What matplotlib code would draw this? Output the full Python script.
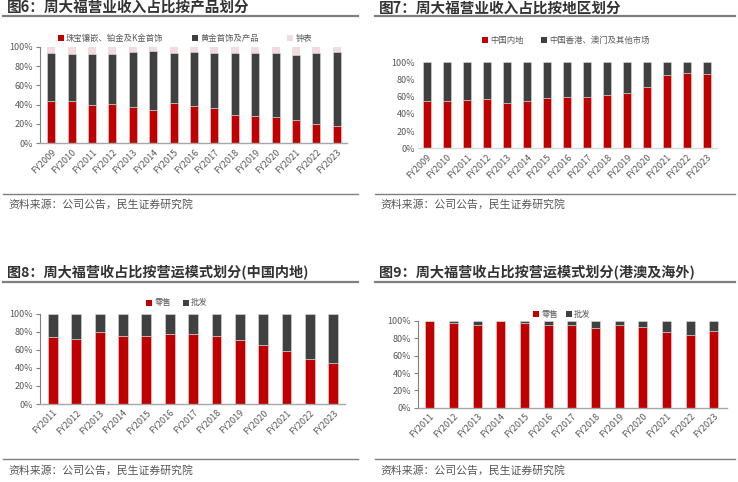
import matplotlib
matplotlib.use("Agg")
import matplotlib.pyplot as plt
from matplotlib.lines import Line2D
from matplotlib.patches import Patch

plt.rcParams["font.family"] = ["Noto Sans CJK SC", "DejaVu Sans"]

RED = "#C00000"
DARK = "#404040"
PINK = "#F2DCDB"

# 图6 产品划分
years_a = ["FY2009", "FY2010", "FY2011", "FY2012", "FY2013", "FY2014", "FY2015", "FY2016",
           "FY2017", "FY2018", "FY2019", "FY2020", "FY2021", "FY2022", "FY2023"]
jewelry = [44.1, 44.0, 39.3, 40.7, 37.2, 34.1, 41.4, 39.0, 36.9, 29.7, 27.9, 26.9, 23.8, 20.3, 17.6]
gold = [49.0, 48.1, 52.8, 52.1, 56.9, 61.1, 52.4, 55.1, 56.9, 63.4, 65.9, 66.2, 67.9, 72.8, 76.5]
watches = [6.9, 7.9, 7.9, 7.2, 5.9, 4.8, 6.2, 5.9, 6.2, 6.9, 6.2, 6.9, 8.3, 6.9, 5.9]

# 图7 地区划分
mainland = [54.7, 54.7, 55.8, 57.0, 52.3, 54.7, 58.9, 59.3, 60.1, 62.0, 64.0, 71.7, 84.9, 88.0, 86.4]
hk_other = [100 - v for v in mainland]

# 图8/图9 营运模式
years_b = ["FY2011", "FY2012", "FY2013", "FY2014", "FY2015", "FY2016", "FY2017", "FY2018",
           "FY2019", "FY2020", "FY2021", "FY2022", "FY2023"]
retail_cn = [74.2, 72.3, 80.1, 75.6, 75.3, 77.9, 77.9, 75.6, 71.2, 64.9, 59.0, 49.8, 45.4]
retail_hk = [99.6, 97.3, 95.8, 99.6, 98.1, 95.0, 95.0, 92.3, 95.0, 92.7, 87.3, 83.8, 88.5]
wholesale_cn = [100 - v for v in retail_cn]
wholesale_hk = [100 - v for v in retail_hk]

W, H = 738, 482
fig = plt.figure(figsize=(W / 100, H / 100), dpi=100)


def px_axes(x0, y0, x1, y1):
    return fig.add_axes([x0 / W, 1 - y1 / H, (x1 - x0) / W, (y1 - y0) / H])


def hline(x0, x1, y, lw, color):
    fig.add_artist(Line2D([x0 / W, x1 / W], [1 - y / H, 1 - y / H], lw=lw, color=color,
                          transform=fig.transFigure))


def frame(title, x0, x1, ty, tly, sly, sy, size=10.5):
    fig.text((x0 + 4) / W, 1 - ty / H, title, fontsize=size, fontweight="bold",
             color="#333333", va="center", ha="left")
    hline(x0, x1, tly, 1.6, "#7f7f7f")
    hline(x0, x1, sly, 1.0, "#7f7f7f")
    fig.text((x0 + 5) / W, 1 - sy / H, "资料来源：公司公告，民生证券研究院", fontsize=7.8,
             color="#555555", va="center", ha="left")


def style(ax, labels, xlim, left_spine=True):
    ax.set_xlim(*xlim)
    ax.set_ylim(0, 100)
    ax.set_yticks([0, 20, 40, 60, 80, 100])
    ax.set_yticklabels([f"{v}%" for v in range(0, 101, 20)])
    ax.set_xticks(range(len(labels)))
    ax.set_xticklabels(labels, rotation=45, ha="right", rotation_mode="anchor")
    ax.tick_params(axis="x", length=0, labelsize=6.5, labelcolor="#595959", pad=3)
    ax.tick_params(axis="y", labelsize=6.5, labelcolor="#595959", color="#808080",
                   length=3 if left_spine else 0, width=0.8, pad=2)
    for s in ("top", "right"):
        ax.spines[s].set_visible(False)
    ax.spines["left"].set_visible(left_spine)
    ax.spines["left"].set_color("#808080")
    ax.spines["left"].set_linewidth(0.8)
    ax.spines["bottom"].set_color("#a6a6a6" if left_spine else "#d9d9d9")
    ax.spines["bottom"].set_linewidth(1.0)


def add_legend(ax, items, cx, cy, spacing):
    handles = [Patch(facecolor=c, edgecolor="none", label=l) for l, c in items]
    ax.legend(handles=handles, loc="center", bbox_to_anchor=(cx / W, 1 - cy / H),
              bbox_transform=fig.transFigure, ncol=len(items), frameon=False,
              fontsize=6, handlelength=0.7, handleheight=0.7, handletextpad=0.3,
              columnspacing=spacing, labelcolor="#595959")


edge = dict(edgecolor="#d9d9d9", linewidth=0.4)

# ---- 图6
frame("图6：周大福营业收入占比按产品划分", 3, 358, 8, 16, 194, 204)
ax = px_axes(40, 46.7, 347, 143.3)
x = range(len(years_a))
ax.bar(x, jewelry, 0.4, color=RED, **edge)
ax.bar(x, gold, 0.4, bottom=jewelry, color=DARK, **edge)
b3 = [a + b for a, b in zip(jewelry, gold)]
ax.bar(x, watches, 0.4, bottom=b3, color=PINK, edgecolor="none")
style(ax, years_a, (-0.55, 14.5))
add_legend(ax, [("珠宝镶嵌、铂金及K金首饰", RED), ("黄金首饰及产品", DARK), ("钟表", PINK)],
           185, 38, 3.4)

# ---- 图7
frame("图7：周大福营业收入占比按地区划分", 375, 735, 8, 16, 194, 204)
ax = px_axes(418, 62.3, 717, 148.3)
ax.bar(x, mainland, 0.4, color=RED, **edge)
ax.bar(x, hk_other, 0.4, bottom=mainland, color=DARK, **edge)
style(ax, years_a, (-0.45, 14.5), left_spine=False)
add_legend(ax, [("中国内地", RED), ("中国香港、澳门及其他市场", DARK)], 566, 40, 2.0)

# ---- 图8
frame("图8：周大福营收占比按营运模式划分(中国内地)", 3, 358, 273, 282, 459, 470, size=10.2)
ax = px_axes(40, 313.7, 345, 404)
xb = range(len(years_b))
ax.bar(xb, retail_cn, 0.42, color=RED, **edge)
ax.bar(xb, wholesale_cn, 0.42, bottom=retail_cn, color=DARK, **edge)
style(ax, years_b, (-0.55, 12.5))
add_legend(ax, [("零售", RED), ("批发", DARK)], 177, 303, 1.4)

# ---- 图9
frame("图9：周大福营收占比按营运模式划分(港澳及海外)", 375, 735, 273, 282, 459, 470, size=10.2)
ax = px_axes(418, 321, 727, 407.7)
ax.bar(xb, retail_hk, 0.38, color=RED, **edge)
ax.bar(xb, wholesale_hk, 0.38, bottom=retail_hk, color=DARK, **edge)
style(ax, years_b, (-0.5, 12.55))
add_legend(ax, [("零售", RED), ("批发", DARK)], 562, 314, 0.9)

fig.savefig("out.png", dpi=100, facecolor="white")
